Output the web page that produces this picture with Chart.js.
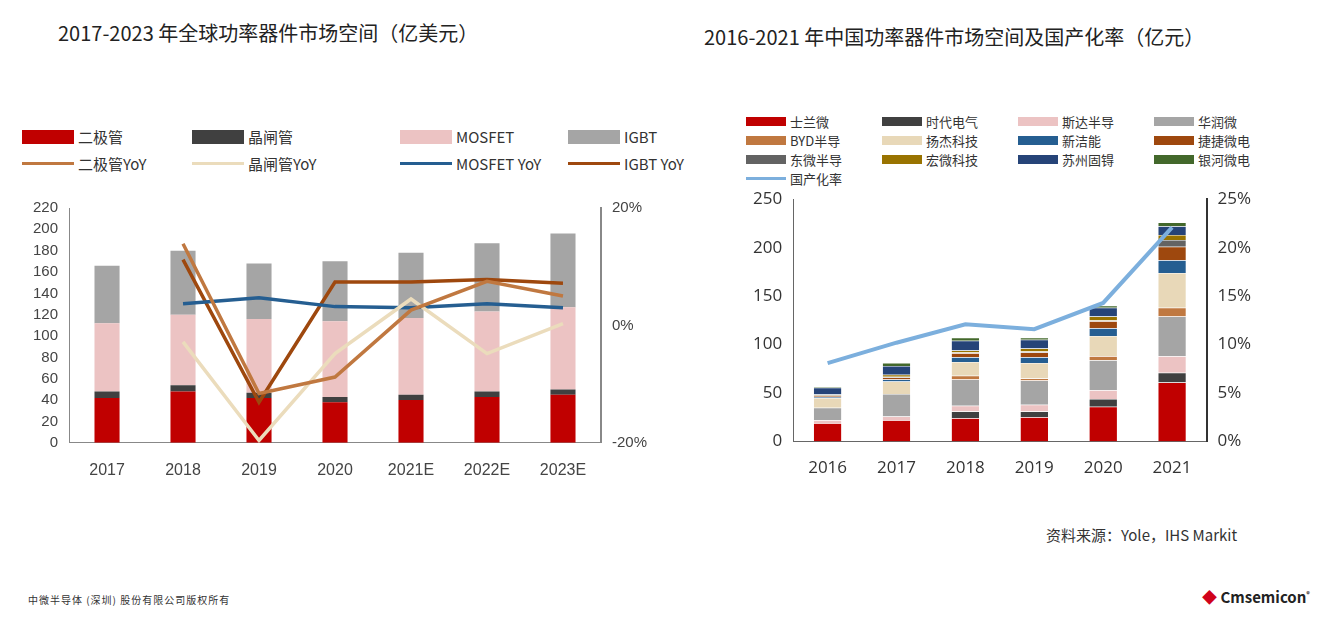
<!DOCTYPE html>
<html lang="zh">
<head>
<meta charset="UTF-8">
<title>功率器件市场空间</title>
<script src="https://cdn.jsdelivr.net/npm/chart.js"></script>
<style>
    body { margin: 0; width: 1332px; height: 626px; background: #fff; position: relative; overflow: hidden;
           font-family: "Noto Sans CJK SC", "Noto Sans", sans-serif; color: #222; }
    .title { position: absolute; font-size: 20px; top: 18px; }
    .legend { position: absolute; display: grid; font-size: 15px; color: #333; }
    .legend div { display: flex; align-items: center; white-space: nowrap; }
    .legend span.box { display: inline-block; margin-right: 4px; }
    #legR { font-size: 13px; }
    canvas { position: absolute; }
    .note { position: absolute; font-size: 15px; color: #333; }
</style>
</head>
<body>
<div class="title" style="left:58px;">2017-2023 年全球功率器件市场空间（亿美元）</div>
<div class="title" style="left:704px; top:22px;">2016-2021 年中国功率器件市场空间及国产化率（亿元）</div>
<div class="legend" id="legL" style="left:22px; top:126px; grid-template-columns: 170px 208px 168px 120px; row-gap:6px;"></div>
<div class="legend" id="legR" style="left:746px; top:112px; grid-template-columns: 136px 136px 136px 110px; row-gap:0px;"></div>
<canvas id="cL" width="620" height="300" style="left:30px; top:190px;"></canvas>
<canvas id="cR" width="508" height="300" style="left:750px; top:186px;"></canvas>
<div class="note" style="left:1046px; top:524px;">资料来源：Yole，IHS Markit</div>
<div class="note" style="left:28px; top:592px; font-size:10px; letter-spacing:1px;">中微半导体 (深圳) 股份有限公司版权所有</div>
<div class="note" style="left:1202px; top:586px; font-size:15px; font-weight:bold; color:#222;"><span style="color:#d0021b;">◆</span> Cmsemicon<sup style="font-size:7px;">®</sup></div>
<script>
// left chart data
const yearsL = ['2017', '2018', '2019', '2020', '2021E', '2022E', '2023E'];
const diode = [42, 48, 42, 38, 40, 43, 45];
const thyristor = [6, 6, 5, 5, 5, 5, 5];
const mosfet = [64, 66, 69, 71, 72, 75, 77];
const igbt = [54, 60, 52, 56, 61, 64, 69];
const diodeYoY = [null, 13.9, -11.6, -8.8, 2.6, 7.5, 5.0];
const thyristorYoY = [null, -2.8, -19.6, -4.8, 4.5, -4.8, 0.3];
const mosfetYoY = [null, 3.7, 4.7, 3.2, 3.0, 3.7, 3.0];
const igbtYoY = [null, 11.2, -13.1, 7.4, 7.4, 7.8, 7.2];

// right chart data
const yearsR = ['2016', '2017', '2018', '2019', '2020', '2021'];
const companies = ['士兰微', '时代电气', '斯达半导', '华润微', 'BYD半导', '扬杰科技', '新洁能', '捷捷微电', '东微半导', '宏微科技', '苏州固锝', '银河微电'];
const companyColors = ['#c00000', '#404040', '#ecc3c3', '#a5a5a5', '#c07840', '#e8d8b8', '#255e91', '#9e480e', '#636363', '#997300', '#264478', '#43682b'];
const companyValues = [
    [19, 22, 24, 25, 36, 61],
    [0, 0, 7, 6, 8, 10],
    [3, 4, 6, 7, 9, 17],
    [13, 23, 27, 25, 31, 41],
    [0, 0, 4, 2, 4, 9],
    [10, 13, 14, 16, 21, 36],
    [1, 2, 5, 6, 8, 13],
    [1, 2, 4, 5, 7, 14],
    [0.5, 1, 1, 1, 1, 7],
    [1, 2, 2, 3, 4, 5],
    [7, 9, 10, 9, 9, 9],
    [1, 3, 3, 2, 2, 4]
];
const localRate = [8.1, 10.2, 12.1, 11.6, 14.3, 22.1];

const tickFont = { family: 'Liberation Sans', size: 16 };
const tickFontR = { family: 'Open Sans', size: 17 };

// left chart
const barsL = [
    { label: '二极管', data: diode, color: '#c00000' },
    { label: '晶闸管', data: thyristor, color: '#404040' },
    { label: 'MOSFET', data: mosfet, color: '#ecc3c3' },
    { label: 'IGBT', data: igbt, color: '#a5a5a5' }
];
const linesL = [
    { label: '二极管YoY', data: diodeYoY, color: '#c07840' },
    { label: '晶闸管YoY', data: thyristorYoY, color: '#ebdcbc' },
    { label: 'MOSFET YoY', data: mosfetYoY, color: '#255e91' },
    { label: 'IGBT YoY', data: igbtYoY, color: '#9e480e' }
];
new Chart(document.getElementById('cL'), {
    data: {
        labels: yearsL,
        datasets: [
            ...linesL.map(l => ({ type: 'line', label: l.label, data: l.data, borderColor: l.color, borderWidth: 3.5,
                pointRadius: 0, yAxisID: 'y1', tension: 0 })),
            ...barsL.map(b => ({ type: 'bar', label: b.label, data: b.data, backgroundColor: b.color,
                yAxisID: 'y', barPercentage: 0.66, categoryPercentage: 0.5 }))
        ]
    },
    options: {
        responsive: false, animation: false,
        layout: { padding: { top: 18, right: 0 } },
        plugins: { legend: { display: false }, tooltip: { enabled: false } },
        scales: {
            x: { stacked: true, grid: { display: false }, border: { color: '#888' },
                 ticks: { font: tickFont, color: '#444', padding: 10 } },
            y: { stacked: true, min: 0, max: 220,
                 ticks: { stepSize: 20, autoSkip: false, font: { family: 'Liberation Sans', size: 15 }, color: '#444' },
                 grid: { display: false }, border: { color: '#888' } },
            y1: { position: 'right', min: -20, max: 20, ticks: { stepSize: 20, font: { family: 'Liberation Sans', size: 15 }, color: '#444', callback: v => v + '%' },
                  grid: { display: false }, border: { color: '#888', width: 2 } }
        }
    }
});

// right chart
new Chart(document.getElementById('cR'), {
    data: {
        labels: yearsR,
        datasets: [
            { type: 'line', label: '国产化率', data: localRate, borderColor: '#7cafdd', borderWidth: 4,
              pointRadius: 0, yAxisID: 'y1', tension: 0 },
            ...companies.map((c, i) => ({ type: 'bar', label: c, data: companyValues[i], backgroundColor: companyColors[i],
                borderColor: '#fff', borderWidth: { top: 0.5 }, yAxisID: 'y', barPercentage: 0.8, categoryPercentage: 0.5 }))
        ]
    },
    options: {
        responsive: false, animation: false,
        layout: { padding: { top: 10, right: 4 } },
        plugins: { legend: { display: false }, tooltip: { enabled: false } },
        scales: {
            x: { stacked: true, grid: { display: false }, border: { color: '#666' },
                 ticks: { font: tickFontR, color: '#333', padding: 8 } },
            y: { stacked: true, min: 0, max: 250, ticks: { stepSize: 50, font: tickFontR, color: '#333' },
                 grid: { display: false }, border: { color: '#666' } },
            y1: { position: 'right', min: 0, max: 25, ticks: { stepSize: 5, font: tickFontR, color: '#333', callback: v => v + '%' },
                  grid: { display: false }, border: { color: '#333', width: 2 } }
        }
    }
});

// html legends built from the series
function addItem(el, label, color, isLine, w, h) {
    const d = document.createElement('div');
    d.innerHTML = `<span class="box" style="width:${w}px;height:${isLine ? 3 : h}px;background:${color};"></span>${label}`;
    el.appendChild(d);
}
const legL = document.getElementById('legL');
barsL.forEach(b => addItem(legL, b.label, b.color, false, 52, 14));
linesL.forEach(l => addItem(legL, l.label, l.color, true, 52, 14));
const legR = document.getElementById('legR');
companies.forEach((c, i) => addItem(legR, c, companyColors[i], false, 40, 9));
addItem(legR, '国产化率', '#7cafdd', true, 40, 9);
</script>
</body>
</html>
